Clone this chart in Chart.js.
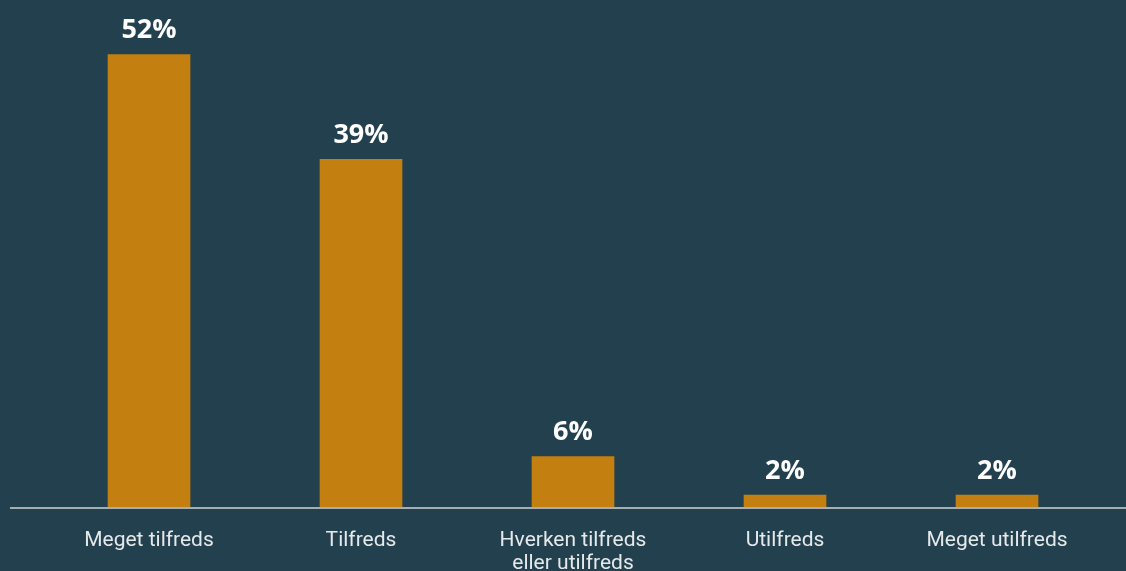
<!DOCTYPE html>
<html>
<head>
<meta charset="utf-8">
<script src="https://cdn.jsdelivr.net/npm/chart.js@4"></script>
<style>
    html, body { margin: 0; padding: 0; background: #23404f; }
    #wrap { width: 1126px; height: 571px; position: relative; }
</style>
</head>
<body>
<div id="wrap"><canvas id="chart1"></canvas></div>
<script>
// Data
const categories = ['Meget tilfreds', 'Tilfreds', ['Hverken tilfreds', 'eller utilfreds'], 'Utilfreds', 'Meget utilfreds'];
const barValues = [51.8, 39.8, 5.8, 1.4, 1.4];          // bar heights as measured
const valueLabels = ['52%', '39%', '6%', '2%', '2%'];   // printed labels
const yMax = 58;

// draws the value on top of each bar + the grey baseline
const barLabels = {
    id: 'barLabels',
    afterDatasetsDraw(chart) {
        const ctx = chart.ctx;
        const meta = chart.getDatasetMeta(0);
        ctx.save();
        // baseline across almost the whole width
        const y0 = chart.scales.y.getPixelForValue(0);
        ctx.strokeStyle = '#a7aeb1';
        ctx.lineWidth = 2;
        ctx.beginPath();
        ctx.moveTo(10, y0 + 1);
        ctx.lineTo(chart.width, y0 + 1);
        ctx.stroke();

        ctx.fillStyle = '#ffffff';
        ctx.font = 'bold 27px "Open Sans"';
        ctx.textAlign = 'center';
        ctx.textBaseline = 'alphabetic';
        meta.data.forEach(function(bar, i) {
            ctx.fillText(valueLabels[i], bar.x, bar.y - 16);
        });
        ctx.restore();
    }
};

document.addEventListener("DOMContentLoaded", function() {
    const ctx1 = document.getElementById('chart1').getContext('2d');
    new Chart(ctx1, {
        type: 'bar',
        data: {
            labels: categories,
            datasets: [{
                data: barValues,
                backgroundColor: '#c38010',
                borderWidth: 0,
                barPercentage: 0.39,
                categoryPercentage: 1
            }]
        },
        options: {
            responsive: true,
            maintainAspectRatio: false,
            animation: false,
            layout: {
                padding: { left: 43, right: 23, top: 0, bottom: 0 }
            },
            plugins: {
                legend: { display: false },
                tooltip: { enabled: false }
            },
            scales: {
                y: {
                    display: false,
                    beginAtZero: true,
                    min: 0,
                    max: yMax
                },
                x: {
                    grid: { display: false, drawTicks: false },
                    border: { display: false },
                    ticks: {
                        color: '#e6e9ea',
                        padding: 22,
                        autoSkip: false,
                        maxRotation: 0,
                        font: { family: 'Roboto', size: 21, lineHeight: 1.1 }
                    },
                    afterFit: function(scale) {
                        scale.height = 64; // labels run off the bottom like the original
                    }
                }
            }
        },
        plugins: [barLabels]
    });
});
</script>
</body>
</html>
